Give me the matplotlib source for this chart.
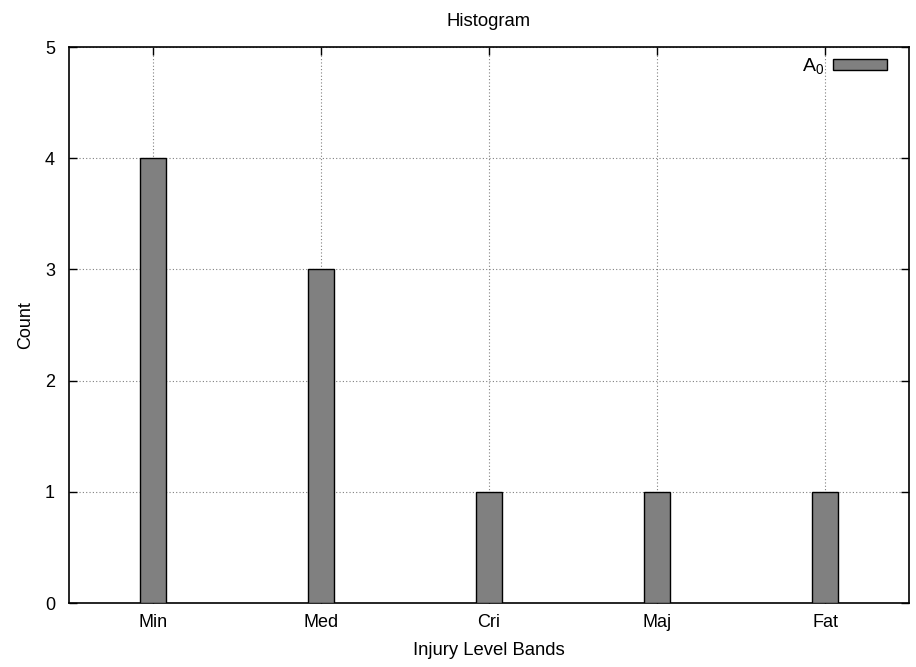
import matplotlib
matplotlib.use("Agg")
import matplotlib.pyplot as plt
import numpy as np

categories = ["Min", "Med", "Cri", "Maj", "Fat"]
counts = [4, 3, 1, 1, 1]
series_label = "A$_0$"
yticks = [0, 1, 2, 3, 4, 5]

plt.rcParams['font.family'] = ['Liberation Sans', 'DejaVu Sans']
plt.rcParams['font.size'] = 13
plt.rcParams['mathtext.fontset'] = 'custom'
plt.rcParams['mathtext.rm'] = 'Liberation Sans'
plt.rcParams['mathtext.it'] = 'Liberation Sans'

fig = plt.figure(figsize=(9.16, 6.67), dpi=100)
ax = fig.add_axes([69/916, 64/667, 840/916, 556/667])

x = np.arange(len(categories))
ax.bar(x, counts, width=0.155, color="#808080", edgecolor="black", linewidth=1.0,
       label=series_label, zorder=3)

ax.set_xlim(-0.5, len(categories) - 0.5)
ax.set_ylim(0, 5)
ax.set_xticks(x)
ax.set_xticklabels(categories)
ax.set_yticks(yticks)
ax.grid(True, linestyle=(0, (1, 2)), color="#808080", linewidth=0.8, zorder=0)
ax.tick_params(direction="in", top=True, right=True, length=6, width=1, pad=8)
ax.tick_params(axis="y", pad=10)
for s in ax.spines.values():
    s.set_linewidth(1.2)

ax.set_title("Histogram", pad=15, fontsize=13.3)
ax.set_xlabel("Injury Level Bands", labelpad=8, fontsize=13.3)
ax.set_ylabel("Count", labelpad=8)

leg = ax.legend(loc="upper right", frameon=False, markerfirst=False,
                handlelength=2.8, handleheight=0.46, borderaxespad=0.0,
                bbox_to_anchor=(0.9835, 0.997), handletextpad=0.45,
                fontsize=14)

fig.savefig("out.png", dpi=100)
